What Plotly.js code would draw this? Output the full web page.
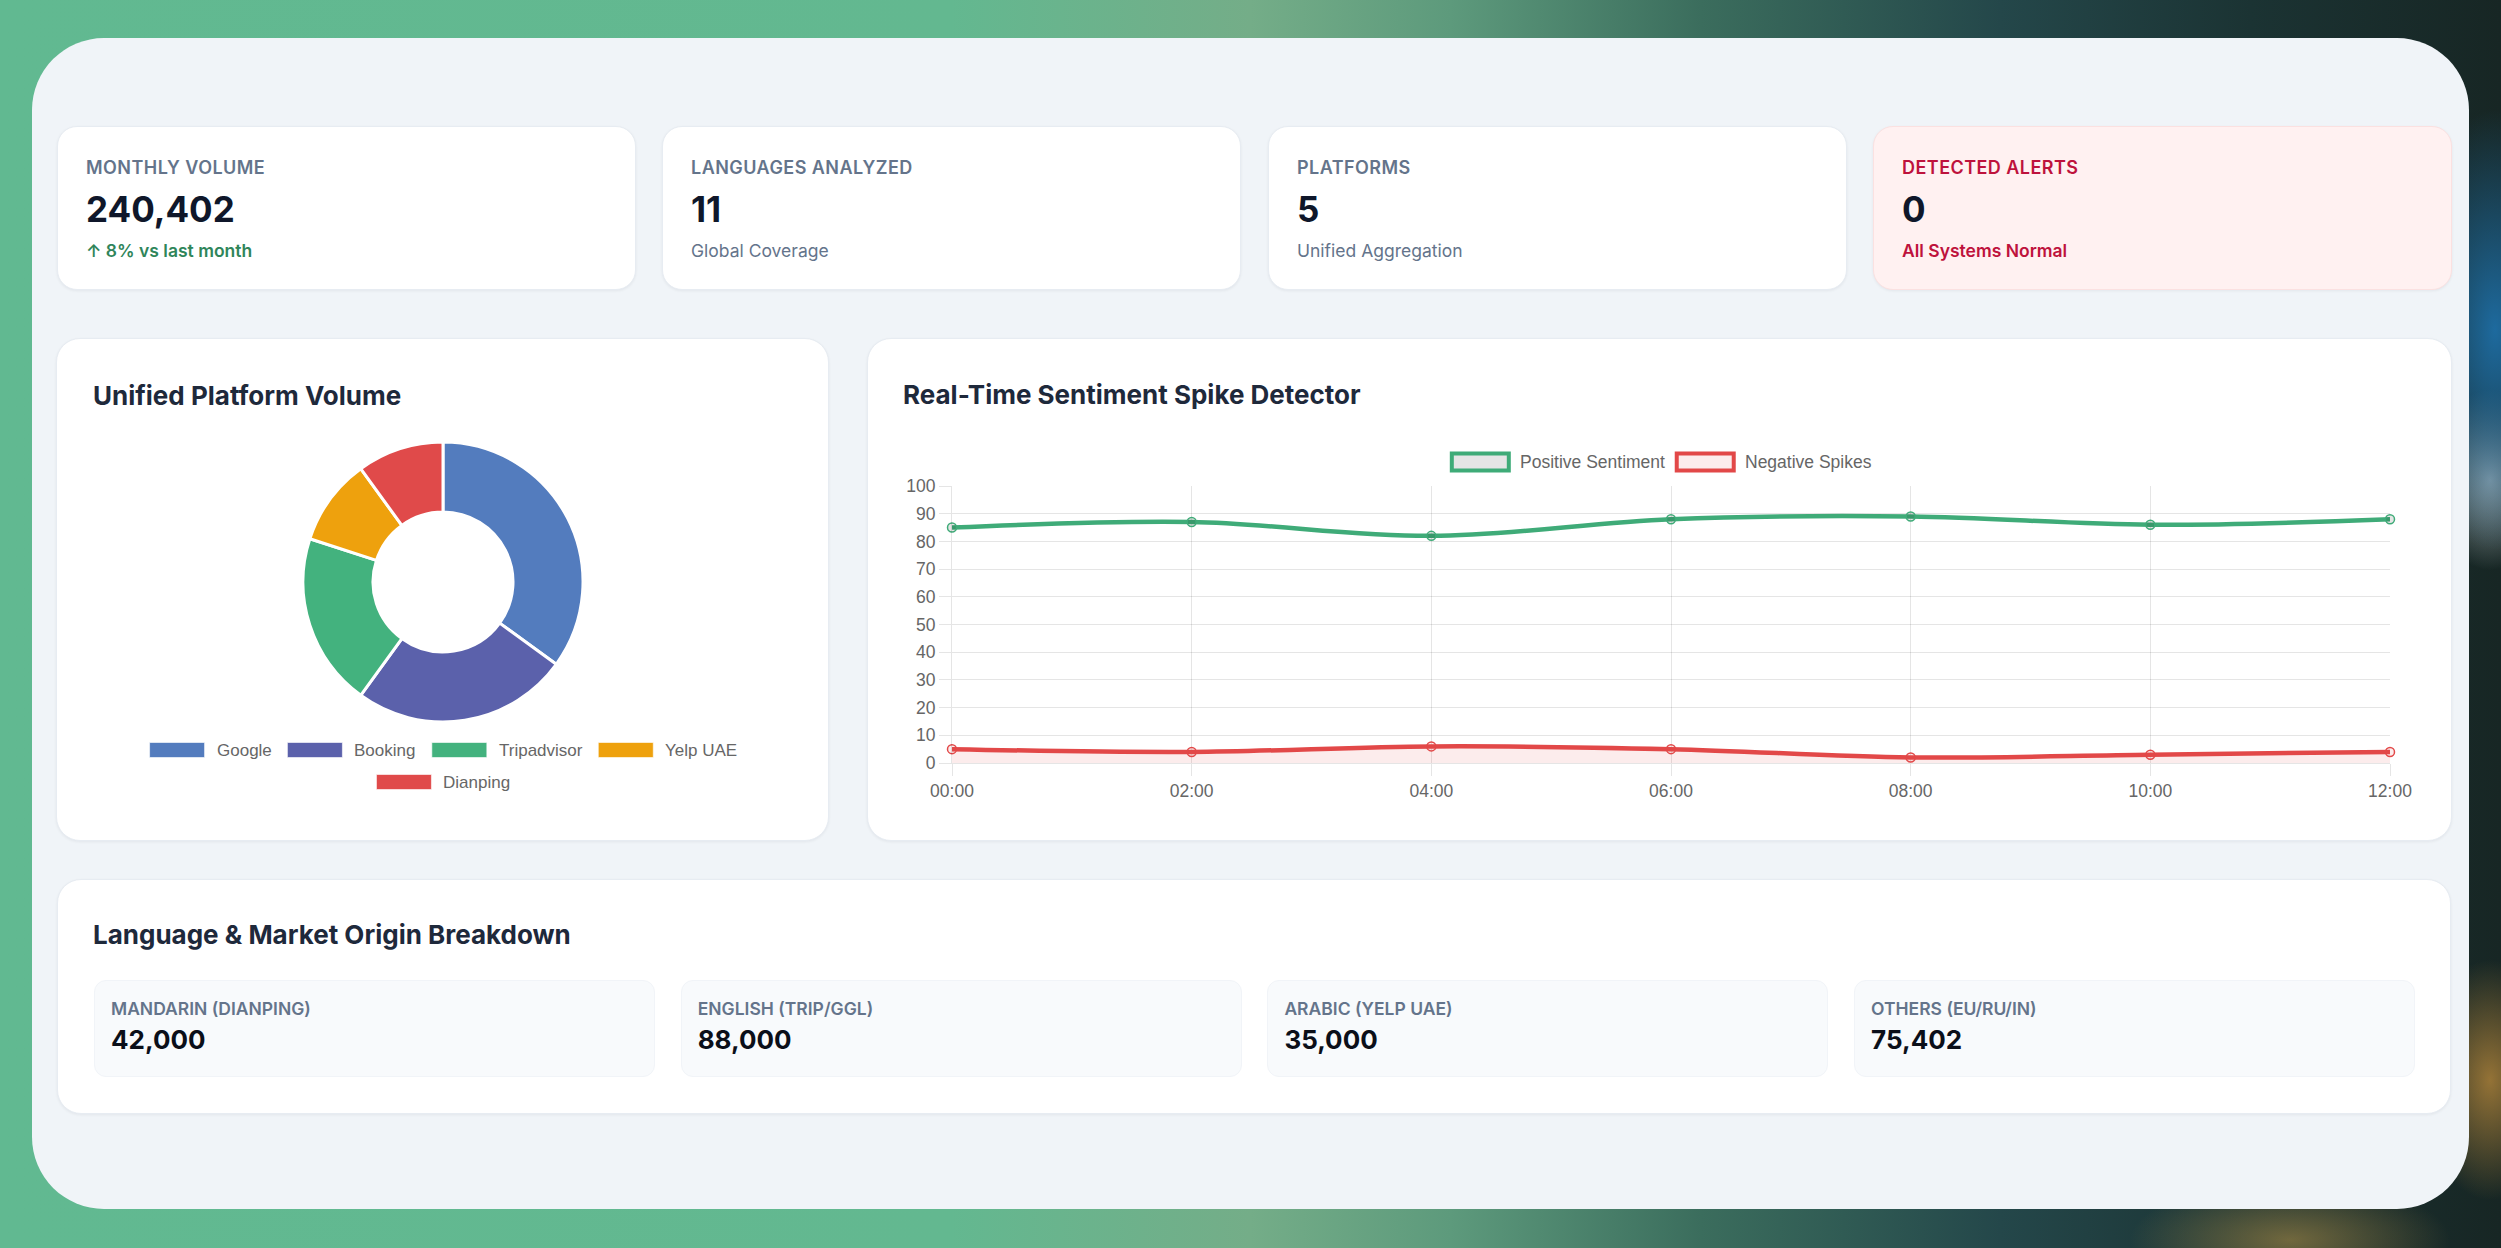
<!DOCTYPE html>
<html>
<head>
<meta charset="utf-8">
<script src="https://cdn.plot.ly/plotly-3.0.1.min.js"></script>
<style>
html,body{margin:0;padding:0;width:2501px;height:1248px;overflow:hidden;}
body{
  font-family:Inter,"Noto Sans",sans-serif;
  background:
    radial-gradient(ellipse 90px 220px at 2495px 330px, rgba(30,110,165,0.95), rgba(30,110,165,0) 100%),
    radial-gradient(ellipse 60px 90px at 2490px 480px, rgba(200,210,215,0.7), rgba(200,210,215,0) 100%),
    radial-gradient(ellipse 70px 120px at 2490px 1080px, rgba(190,140,60,0.75), rgba(190,140,60,0) 100%),
    radial-gradient(ellipse 160px 60px at 2290px 1240px, rgba(170,140,70,0.6), rgba(170,140,70,0) 100%),
    linear-gradient(90deg,#61b991 0%,#63b890 38%,#74ad88 50%,#5d9a7c 58%,#3b6d5d 68%,#24474a 80%,#1b3333 90%,#172624 100%);
  position:relative;
}
.panel{position:absolute;left:32px;top:38px;width:2437px;height:1171px;background:#f0f4f8;border-radius:72px;}
.card{position:absolute;background:#fff;box-sizing:border-box;border:1px solid #e7ecf2;box-shadow:0 1px 3px rgba(15,23,42,0.06);}
.kpi{border-radius:20px;}
.kpi .lab{position:absolute;left:28px;top:30px;font-size:18px;line-height:22px;font-weight:600;color:#64748b;letter-spacing:0.45px;white-space:nowrap;}
.kpi .val{position:absolute;left:28px;top:61px;font-size:35px;line-height:42px;font-weight:700;color:#0f172a;}
.kpi .note{position:absolute;left:28px;top:113px;font-size:17.5px;line-height:21px;color:#64748b;white-space:nowrap;}
.kpi.up .note{color:#2f855a;font-weight:600;}
.kpi.alert{background:#fff1f1;border-color:#fbe1e1;}
.kpi.alert .lab{color:#be123c;}
.kpi.alert .note{color:#be123c;font-weight:600;}
.big{border-radius:24px;}
.ctitle{position:absolute;left:36px;top:41px;font-size:26px;line-height:32px;font-weight:700;color:#1e293b;white-space:nowrap;}
.mbox{position:absolute;top:100px;width:561px;height:97px;background:#f8fafc;border-radius:12px;border:1px solid #f1f4f8;box-sizing:border-box;}
.mbox .lab{position:absolute;left:16px;top:17px;font-size:17.5px;line-height:21px;font-weight:600;color:#64748b;white-space:nowrap;}
.mbox .val{position:absolute;left:16px;top:43px;font-size:26px;line-height:32px;font-weight:700;color:#0b0f19;}
.plot{position:absolute;}
</style>
</head>
<body>
<div class="panel"></div>
<div id="root"></div>
<script>
// ---------------- DATA ----------------
const kpiLabels = ['MONTHLY VOLUME','LANGUAGES ANALYZED','PLATFORMS','DETECTED ALERTS'];
const kpiValues = [240402, 11, 5, 0];
const kpiNotes  = ['\u2191 8% vs last month','Global Coverage','Unified Aggregation','All Systems Normal'];

const platforms     = ['Google','Booking','Tripadvisor','Yelp UAE','Dianping'];
const platformShare = [35, 25, 20, 10, 10];

const hours             = ['00:00','02:00','04:00','06:00','08:00','10:00','12:00'];
const positiveSentiment = [85, 87, 82, 88, 89, 86, 88];
const negativeSpikes    = [5, 4, 6, 5, 2, 3, 4];
const seriesNames       = ['Positive Sentiment','Negative Spikes'];

const marketLabels  = ['MANDARIN (DIANPING)','ENGLISH (TRIP/GGL)','ARABIC (YELP UAE)','OTHERS (EU/RU/IN)'];
const marketVolumes = [42000, 88000, 35000, 75402];

// ---------------- STYLE ----------------
const platformColors = ['#537cbe','#5b61ab','#43b27e','#eea10d','#e04a4a'];
const GREEN = '#3fab78', RED = '#e24848';
const seriesColors = [GREEN, RED];
const seriesFills  = ['rgba(0,0,0,0.1)','rgba(226,72,72,0.1)'];
const CHART_FONT = '"Liberation Sans", Arial, sans-serif';
const fmt = v => v.toLocaleString('en-US');

const root = document.getElementById('root');
function el(tag, cls, style, text){
  const e = document.createElement(tag);
  if(cls) e.className = cls;
  if(style) Object.assign(e.style, style);
  if(text !== undefined) e.textContent = text;
  return e;
}

// KPI cards
const kpiX = [57, 662, 1268, 1873];
kpiLabels.forEach((lab,i)=>{
  const c = el('div','card kpi'+(i===0?' up':'')+(i===3?' alert':''),{left:kpiX[i]+'px',top:'126px',width:'579px',height:'164px'});
  c.appendChild(el('div','lab',null,lab));
  c.appendChild(el('div','val',null,fmt(kpiValues[i])));
  c.appendChild(el('div','note',null,kpiNotes[i]));
  root.appendChild(c);
});

// Chart cards
const donutCard = el('div','card big',{left:'56px',top:'338px',width:'773px',height:'503px'});
donutCard.appendChild(el('div','ctitle',null,'Unified Platform Volume'));
root.appendChild(donutCard);
const lineCard = el('div','card big',{left:'867px',top:'338px',width:'1585px',height:'503px'});
lineCard.appendChild(el('div','ctitle',{left:'35px',top:'40px'},'Real-Time Sentiment Spike Detector'));
root.appendChild(lineCard);

// Bottom card
const botCard = el('div','card big',{left:'57px',top:'879px',width:'2394px',height:'235px'});
botCard.appendChild(el('div','ctitle',{left:'35px',top:'39px'},'Language & Market Origin Breakdown'));
marketLabels.forEach((lab,i)=>{
  const b = el('div','mbox',{left:(36 + i*586.7)+'px'});
  b.appendChild(el('div','lab',null,lab));
  b.appendChild(el('div','val',null,fmt(marketVolumes[i])));
  botCard.appendChild(b);
});
root.appendChild(botCard);

// plot containers
const donutDiv = el('div','plot',{left:'56px',top:'420px',width:'773px',height:'420px'});
donutDiv.id='donut'; root.appendChild(donutDiv);
const lineDiv = el('div','plot',{left:'868px',top:'420px',width:'1584px',height:'422px'});
lineDiv.id='line'; root.appendChild(lineDiv);

const mctx = document.createElement('canvas').getContext('2d');
function textW(t, size){ mctx.font = size+'px "Liberation Sans"'; return mctx.measureText(t).width; }

// ---------------- DONUT ----------------
(function(){
  const W = 773, H = 420;
  const cx = 387, cy = 162, R = 140;
  const data = [{
    type:'pie', labels: platforms, values: platformShare,
    hole:0.5, sort:false, direction:'clockwise', rotation:0,
    textinfo:'none', hoverinfo:'skip', showlegend:false,
    marker:{colors: platformColors, line:{color:'#ffffff', width:3}},
    domain:{x:[(cx-R)/W,(cx+R)/W], y:[(H-cy-R)/H,(H-cy+R)/H]}
  }];
  // legend (Chart.js style)
  const fs = 17, boxW = 55, boxH = 15, gapBT = 11, itemGap = 17, rowH = 32, maxW = 703, row0 = 330;
  const items = platforms.map((p,i)=>({name:p,color:platformColors[i],w:boxW+gapBT+textW(p,fs)}));
  const rows = [[]]; let cur = 0;
  items.forEach(it=>{
    const add = (rows[rows.length-1].length? itemGap:0) + it.w;
    if(cur + add > maxW && rows[rows.length-1].length){ rows.push([it]); cur = it.w; }
    else { rows[rows.length-1].push(it); cur += add; }
  });
  const shapes = [], ann = [];
  rows.forEach((row,ri)=>{
    const tot = row.reduce((s,it)=>s+it.w,0) + itemGap*(row.length-1);
    let x = cx - tot/2; const y = row0 + ri*rowH;
    row.forEach(it=>{
      shapes.push({type:'rect',xref:'paper',yref:'paper',x0:x/W,x1:(x+boxW)/W,y0:(H-y-boxH/2)/H,y1:(H-y+boxH/2)/H,fillcolor:it.color,line:{width:1,color:'rgba(255,255,255,0.6)'}});
      ann.push({xref:'paper',yref:'paper',x:(x+boxW+gapBT-1)/W,y:(H-y)/H,xanchor:'left',yanchor:'middle',text:it.name,showarrow:false,font:{family:CHART_FONT,size:fs,color:'#666666'}});
      x += it.w + itemGap;
    });
  });
  Plotly.newPlot('donut', data, {
    width:W, height:H, margin:{l:0,r:0,t:0,b:0},
    paper_bgcolor:'rgba(0,0,0,0)', plot_bgcolor:'rgba(0,0,0,0)',
    shapes:shapes, annotations:ann
  }, {displayModeBar:false, staticPlot:true});
})();

// ---------------- LINE ----------------
(function(){
  const W = 1584, H = 422, M = {l:84, r:62, t:66, b:79};
  const pw = W - M.l - M.r, ph = H - M.t - M.b;
  const series = [positiveSentiment, negativeSpikes];
  const data = series.map((ys,i)=>({
    type:'scatter', mode:'lines+markers', x: hours, y: ys, name: seriesNames[i],
    line:{color:seriesColors[i], width:4.5, shape:'spline', smoothing:1},
    marker:{size:9, color:seriesFills[i], line:{color:seriesColors[i], width:1.5}},
    fill: i===1 ? 'tozeroy' : 'none', fillcolor: seriesFills[i],
    cliponaxis:false, hoverinfo:'skip', showlegend:false
  }));
  const gridC = 'rgba(0,0,0,0.1)';
  const tickFont = {family:CHART_FONT, size:17.5, color:'#666666'};
  // legend
  const fs = 17.5, boxW = 61, boxH = 21, bw = 4, gapBT = 8, itemGap = 11, lcx = 792, lcy = 42;
  const items = seriesNames.map((n,i)=>({name:n,w:boxW+gapBT+textW(n,fs)}));
  const tot = items.reduce((s,it)=>s+it.w,0) + itemGap*(items.length-1);
  let x = lcx - tot/2;
  const px2x = p => (p - M.l)/pw, py2y = p => (H - M.b - p)/ph;
  const shapes = [], ann = [];
  items.forEach((it,i)=>{
    shapes.push({type:'rect',xref:'paper',yref:'paper',
      x0:px2x(x+bw/2), x1:px2x(x+boxW-bw/2), y0:py2y(lcy+boxH/2-bw/2), y1:py2y(lcy-boxH/2+bw/2),
      fillcolor:seriesFills[i], line:{color:seriesColors[i], width:bw}});
    ann.push({xref:'paper',yref:'paper',x:px2x(x+boxW+gapBT-1),y:py2y(lcy),xanchor:'left',yanchor:'middle',
      text:it.name,showarrow:false,font:{family:CHART_FONT,size:fs,color:'#666666'}});
    x += it.w + itemGap;
  });
  Plotly.newPlot('line', data, {
    width:W, height:H, margin:M,
    paper_bgcolor:'rgba(0,0,0,0)', plot_bgcolor:'rgba(0,0,0,0)',
    xaxis:{type:'category', range:[0, hours.length-1], showgrid:true, gridcolor:gridC, gridwidth:1,
      showline:true, linecolor:gridC, linewidth:1, zeroline:false,
      ticks:'outside', ticklen:12, tickcolor:gridC, tickwidth:1, tickfont:tickFont, fixedrange:true},
    yaxis:{range:[0,100], dtick:10, tick0:0, showgrid:true, gridcolor:gridC, gridwidth:1,
      showline:true, linecolor:gridC, linewidth:1, zeroline:false,
      ticks:'outside', ticklen:12, tickcolor:gridC, tickwidth:1, tickfont:tickFont, fixedrange:true},
    shapes:shapes, annotations:ann
  }, {displayModeBar:false, staticPlot:true});
})();
</script>
</body>
</html>
